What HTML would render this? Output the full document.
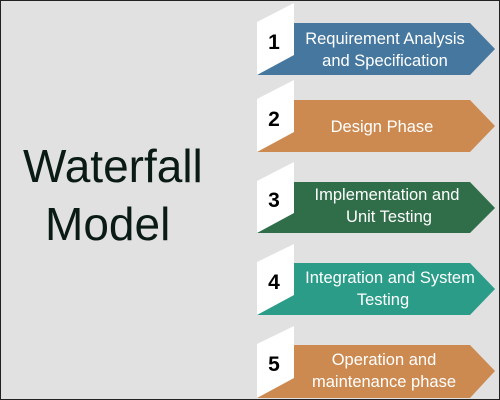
<!DOCTYPE html>
<html><head><style>
html,body{margin:0;padding:0}
body{width:500px;height:400px;overflow:hidden;background:#e1e1e1}
svg{display:block}
</style></head><body>
<svg width="500" height="400" xmlns="http://www.w3.org/2000/svg" font-family="Liberation Sans, sans-serif">
<rect x="0.5" y="0.5" width="499" height="399" fill="#e1e1e1" stroke="#222" stroke-width="1"/>
<text x="23" y="182" font-size="46" fill="#0a1a14">Waterfall</text>
<text x="45" y="240" font-size="46" fill="#0a1a14">Model</text>
<!-- row1 -->
<polygon points="294,23 470,23 495,49 470,75 257,75" fill="#46789f"/>
<polygon points="257,22 294,3 294,55 257,75" fill="#fff"/>
<text x="274" y="49" font-size="21" font-weight="bold" text-anchor="middle">1</text>
<text x="385" y="44" font-size="16.5" fill="#fff" text-anchor="middle">Requirement Analysis</text>
<text x="385" y="66" font-size="16.5" fill="#fff" text-anchor="middle">and Specification</text>
<!-- row2 -->
<polygon points="294,100 470,100 495,126 470,152 257,152" fill="#cc8a50"/>
<polygon points="257,99 294,80 294,132 257,152" fill="#fff"/>
<text x="274" y="126" font-size="21" font-weight="bold" text-anchor="middle">2</text>
<text x="382" y="132" font-size="16.5" fill="#fff" text-anchor="middle">Design Phase</text>
<!-- row3 -->
<polygon points="294,182 470,182 495,208 470,233 257,233" fill="#2f6e48"/>
<polygon points="257,181 294,162 294,213 257,233" fill="#fff"/>
<text x="274" y="207" font-size="21" font-weight="bold" text-anchor="middle">3</text>
<text x="387" y="200" font-size="16.5" fill="#fff" text-anchor="middle">Implementation and</text>
<text x="389" y="222" font-size="16.5" fill="#fff" text-anchor="middle">Unit Testing</text>
<!-- row4 -->
<polygon points="294,263 470,263 495,289 470,315 257,315" fill="#2a9c88"/>
<polygon points="257,262 294,244 294,295 257,315" fill="#fff"/>
<text x="274" y="289" font-size="21" font-weight="bold" text-anchor="middle">4</text>
<text x="390" y="283" font-size="16.5" fill="#fff" text-anchor="middle">Integration and System</text>
<text x="383" y="305" font-size="16.5" fill="#fff" text-anchor="middle">Testing</text>
<!-- row5 -->
<polygon points="294,345 470,345 495,371 470,398 257,398" fill="#cc8a50"/>
<polygon points="257,344 294,326 294,378 257,398" fill="#fff"/>
<text x="274" y="371" font-size="21" font-weight="bold" text-anchor="middle">5</text>
<text x="384" y="365" font-size="16.5" fill="#fff" text-anchor="middle">Operation and</text>
<text x="384" y="387" font-size="16.5" fill="#fff" text-anchor="middle">maintenance phase</text>
</svg>
</body></html>
